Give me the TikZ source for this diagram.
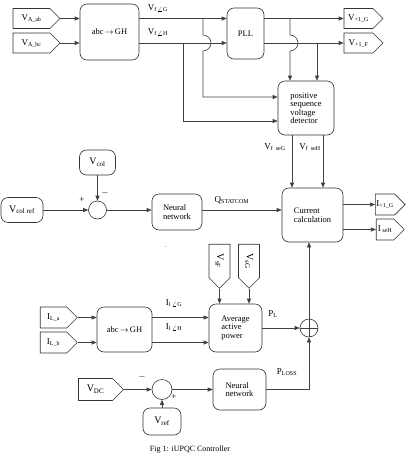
\documentclass[tikz,border=0pt]{standalone}
\usepackage{fontspec}
\setmainfont{Liberation Serif}
\usetikzlibrary{shapes.symbols,arrows.meta}
\begin{document}
\begin{tikzpicture}[x=1pt,y=-1pt,
 line/.style={draw=black!75,line width=0.6pt},
 arr/.style={line,-{Triangle[length=5pt,width=4pt]}},
 blk/.style={draw=black!80,line width=0.6pt,rounded corners=7pt,align=left,font=\fontsize{8.5}{8.5}\selectfont,inner sep=1pt},
 sig/.style={draw=black!80,line width=0.6pt,signal,signal to=east,inner sep=1pt,font=\fontsize{9}{10}\selectfont},
 sumc/.style={circle,draw=black!80,line width=0.6pt,inner sep=0pt},
 lbl/.style={font=\fontsize{9}{10}\selectfont,inner sep=0pt}]
\useasboundingbox (0,0) rectangle (408,459);
% top row
\node[sig,minimum width=47pt,minimum height=20pt] (vaab) at (31.5,18.5) {V\textsubscript{A\_ab}};
\node[sig,minimum width=47pt,minimum height=20pt] (vabc) at (31.5,43) {V\textsubscript{A\_bc}};
\node[blk,minimum width=59pt,minimum height=56pt] (abc1) at (109.5,32) {abc\,$\rightarrow$\,GH};
\node[blk,minimum width=37pt,minimum height=51pt] (pll) at (245.5,33.5) {PLL};
\node[sig,minimum width=39pt,minimum height=20pt] (vG) at (358.5,18.5) {V\textsubscript{+1\_G}};
\node[sig,minimum width=39pt,minimum height=20pt] (vF) at (358.5,43) {V\textsubscript{+1\_F}};
\node[blk,minimum width=56pt,minimum height=54pt] (det) at (306,108) {positive\\sequence\\voltage\\detector};
\node[lbl] (lfg) at (158,8) {V\textsubscript{f\,$\angle$G}};
\node[lbl] (lfh) at (158,32) {V\textsubscript{f\,$\angle$H}};
\node[lbl] (lsg) at (275,147) {V\textsubscript{f\ \ seG}};
\node[lbl] (lsh) at (310,147) {V\textsubscript{f\ \ seH}};
% connectors top
\draw[arr] (vaab.east) -- (vaab.east -| abc1.west);
\draw[arr] (vabc.east) -- (vabc.east -| abc1.west);
\draw[arr] (vaab.east -| abc1.east) -- (vaab.east -| pll.west);
\draw[arr] (vabc.east -| abc1.east) -- (vabc.east -| pll.west);
\draw[arr] (vG.west -| pll.east) -- (vG.west);
\draw[arr] (vF.west -| pll.east) -- (vF.west);
\coordinate (j1) at (203,18.5);
\coordinate (j2) at (183,43);
\coordinate (j3) at (290,18.5);
\coordinate (j4) at (317,43);
\draw[arr] (j1) -- (203,35) arc[start angle=90,end angle=-90,radius=8pt] -- (203,97) -- (det.west |- 0,97);
\draw[arr] (j2) -- (183,121) -- (det.west |- 0,121);
\draw[arr] (j3) -- (290,35) arc[start angle=90,end angle=-90,radius=8pt] -- (j3 |- det.north);
\draw[arr] (j4) -- (j4 |- det.north);
% middle
\node[blk,minimum width=36pt,minimum height=25pt,font=\fontsize{10}{11}\selectfont] (vcol) at (97.5,162.5) {V\textsubscript{col}};
\node[sumc,minimum size=18pt] (sum1) at (97.5,210) {};
\node[blk,minimum width=42pt,minimum height=25pt,font=\fontsize{10}{11}\selectfont] (vcolref) at (22,210) {V\textsubscript{col ref}};
\node[blk,minimum width=50pt,minimum height=36pt] (nn1) at (177,212) {Neural\\network};
\node[blk,minimum width=61pt,minimum height=54pt] (cc) at (312.5,215) {Current\\calculation};
\node[sig,minimum width=28pt,minimum height=21pt] (ig) at (385,204.5) {I\textsubscript{+1\_G}};
\node[sig,minimum width=28pt,minimum height=21pt] (ih) at (385,229.5) {I\textsubscript{\ seH}};
\node[lbl] (lq) at (232,200) {Q\textsubscript{STATCOM}};
\node[lbl] (plus1) at (82,200) {+};
\node[lbl] (minus1) at (105,193) {$-$};
\node[lbl,font=\fontsize{6}{6}\selectfont] (dot) at (166,247) {.};
\draw[arr] (vcol.south) -- (sum1.north);
\draw[arr] (vcolref.east) -- (sum1.west);
\draw[arr] (sum1.east) -- (sum1.east -| nn1.west);
\draw[arr] (sum1.east -| nn1.east) -- (sum1.east -| cc.west);
\draw[arr] (ig.west -| cc.east) -- (ig.west);
\draw[arr] (ih.west -| cc.east) -- (ih.west);
\draw[arr] (det.south -| 292,0) -- (cc.north -| 292,0);
\draw[arr] (det.south -| 323,0) -- (cc.north -| 323,0);
% lower
\node[sig,rotate=-90,minimum width=44pt,minimum height=21pt,font=\fontsize{10}{11}\selectfont] (vsf) at (219.5,261) {V\textsubscript{sF}};
\node[sig,rotate=-90,minimum width=44pt,minimum height=21pt,font=\fontsize{10}{11}\selectfont] (vsg) at (249,261) {V\textsubscript{sG}};
\node[blk,minimum width=53pt,minimum height=48pt] (aap) at (235.5,328) {Average\\active\\power};
\node[blk,minimum width=55pt,minimum height=45pt] (abc2) at (124.5,329.5) {abc\,$\rightarrow$\,GH};
\node[sig,minimum width=37pt,minimum height=21pt] (ila) at (53.5,317.5) {I\textsubscript{L\_a}};
\node[sig,minimum width=37pt,minimum height=21pt] (ilb) at (53.5,342.5) {I\textsubscript{L\_b}};
\node[sumc,minimum size=18pt] (sum2) at (309,328) {};
\node[blk,minimum width=53pt,minimum height=41pt] (nn2) at (239.5,389.5) {Neural\\network};
\node[sig,minimum width=45pt,minimum height=22pt,font=\fontsize{10}{11}\selectfont] (vdc) at (95.5,389.5) {V\textsubscript{DC}};
\node[sumc,minimum size=20pt] (sum3) at (162,389.5) {};
\node[blk,minimum width=38pt,minimum height=27pt,font=\fontsize{10}{11}\selectfont] (vref) at (162,421.5) {V\textsubscript{ref}};
\node[lbl] (lig) at (174,303) {I\textsubscript{l\,$\angle$G}};
\node[lbl] (lih) at (174,327) {I\textsubscript{l\,$\angle$H}};
\node[lbl] (lpl) at (273,314) {P\textsubscript{L}};
\node[lbl] (lploss) at (287,372) {P\textsubscript{LOSS}};
\node[lbl] (minus3) at (142,377) {$-$};
\node[lbl] (plus3) at (174,397) {+};
\node[lbl,font=\fontsize{8}{9}\selectfont] (cap) at (190,450) {Fig 1: iUPQC Controller};
\draw[line] (sum2.north) -- (sum2.south) (sum2.west) -- (sum2.east);
\draw[arr] (vsf.east) -- (vsf.east |- aap.north);
\draw[arr] (vsg.east) -- (vsg.east |- aap.north);
\draw[arr] (ila.east) -- (ila.east -| abc2.west);
\draw[arr] (ilb.east) -- (ilb.east -| abc2.west);
\draw[arr] (ila.east -| abc2.east) -- (ila.east -| aap.west);
\draw[arr] (ilb.east -| abc2.east) -- (ilb.east -| aap.west);
\draw[arr] (sum2 -| aap.east) -- (sum2.west);
\draw[arr] (sum2.north) -- (sum2 |- cc.south);
\draw[arr] (nn2.east) -- (nn2.east -| sum2) -- (sum2.south);
\draw[arr] (vdc.east) -- (sum3.west);
\draw[arr] (sum3.east) -- (sum3.east -| nn2.west);
\draw[arr] (vref.north) -- (sum3.south);
\end{tikzpicture}
\end{document}
